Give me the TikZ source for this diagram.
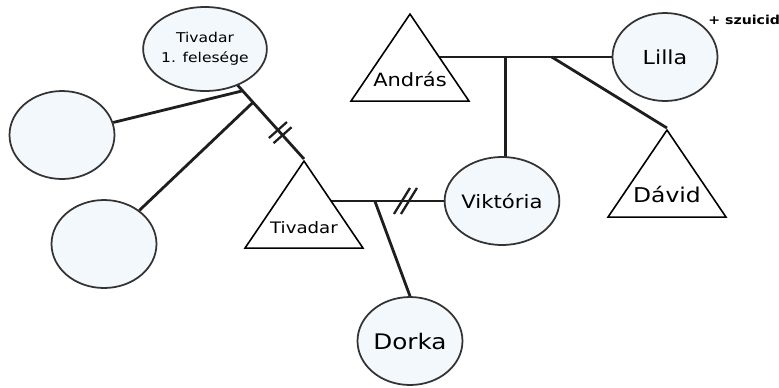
\documentclass[tikz,border=0pt]{standalone}
\usepackage{fontspec}
\newfontfamily\lbl[FakeStretch=1.15]{DejaVu Sans}
\usetikzlibrary{shapes.geometric, backgrounds, calc}
\definecolor{dline}{HTML}{1E1E1E}
\definecolor{dedge}{HTML}{333333}
\definecolor{lfill}{HTML}{F3F8FC}
% name inside a triangle, kept out of the shape's size
\newcommand{\tname}[1]{\smash{\makebox[0pt]{\raisebox{-0.34cm}{#1}}}}

\begin{document}
\begin{tikzpicture}[x=0.02cm, y=-0.02cm,
    female/.style={ellipse, draw=dedge, line width=1pt, fill=lfill, minimum width=2.1cm, minimum height=1.76cm, inner sep=0pt, align=center},
    male/.style={isosceles triangle, shape border rotate=90, isosceles triangle stretches, draw=black, line width=0.9pt, fill=white, minimum width=2.36cm, minimum height=1.74cm, inner sep=0pt, anchor=apex},
    link/.style={line width=1.6pt, dline},
    hash/.style={line width=1.3pt, dline},
]
\useasboundingbox (0,0) rectangle (779,387);

% people
\node[female, minimum height=1.68cm, font=\lbl\fontsize{7.7}{11.3}\selectfont] (wife) at (205,49) {Tivadar\\1. felesége};
\node[female] (left1) at (62,135) {};
\node[female] (left2) at (104,244) {};
\node[male, font=\lbl\fontsize{9}{11}\selectfont] (tiv) at (304,159) {\tname{Tivadar}};
\node[female, font=\lbl\fontsize{10.5}{12}\selectfont] (vik) at (502,201) {Viktória};
\node[female, font=\lbl\fontsize{12.2}{14}\selectfont] (dorka) at (410,341) {Dorka};
\node[male, font=\lbl\fontsize{10.4}{12}\selectfont] (andras) at (410,12) {\tname{András}};
\node[female, font=\lbl\fontsize{11}{13}\selectfont] (lilla) at (665,57) {Lilla};
\node[male, font=\lbl\fontsize{11.6}{13}\selectfont] (david) at (667,128) {\tname{Dávid}};
\node[anchor=west, inner sep=0pt, font=\lbl\bfseries\fontsize{7}{8}\selectfont] (szuicid) at (708,20) {+ szuicid};

% relations
\begin{pgfonlayer}{background}
\draw[link] (wife.center) -- coordinate[pos=0.38] (w1) coordinate[pos=0.485] (w2) coordinate[pos=0.76] (wh) (tiv.apex);
\draw[link] (left1) -- (w1);
\draw[link] (left2) -- (w2);
\draw[link] (tiv.apex |- vik.west) -- coordinate[pos=0.507] (t1) coordinate[pos=0.726] (th) (vik.west);
\draw[link] (t1) -- (dorka.north);
\draw[link] (andras.apex |- lilla.west) -- coordinate[pos=0.475] (a1) coordinate[pos=0.703] (a2) (lilla.west);
\draw[link] (a1) -- (a1 |- vik.center);
\draw[link] (a2) -- (david.apex);
\end{pgfonlayer}

% divorce marks
\draw[hash] ($(wh)+(-11.3,5.4)$) -- ($(wh)+(6.7,-10.6)$);
\draw[hash] ($(wh)+(-6.7,10.6)$) -- ($(wh)+(11.3,-5.4)$);
\draw[hash] ($(th)+(-11.5,13)$) -- ($(th)+(4.5,-13)$);
\draw[hash] ($(th)+(-4.5,13)$) -- ($(th)+(11.5,-13)$);
\end{tikzpicture}
\end{document}
